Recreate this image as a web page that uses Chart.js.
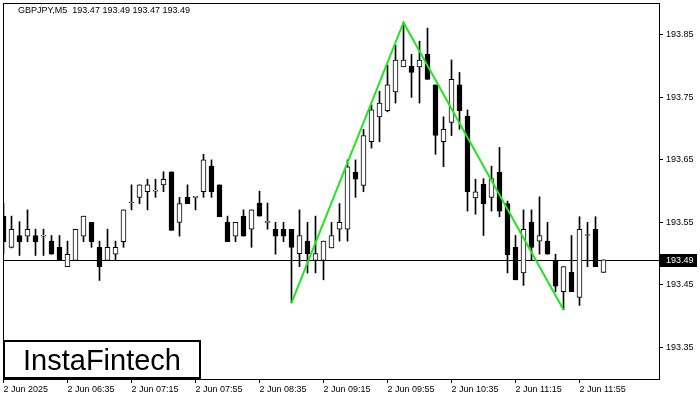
<!DOCTYPE html>
<html>
<head>
<meta charset="utf-8">
<script src="https://cdn.jsdelivr.net/npm/chart.js@4.4.0/dist/chart.umd.min.js"></script>
<style>
  html, body { margin: 0; padding: 0; background: #fff; }
</style>
</head>
<body>
<canvas id="chart" width="700" height="400"></canvas>
<script>
const symbol = 'GBPJPY,M5';

// M5 candles, 05:55 .. 12:10
const opens = [193.560, 193.510, 193.529, 193.528, 193.529, 193.528, 193.520, 193.510, 193.479, 193.489,
  193.528, 193.550, 193.510, 193.489, 193.499, 193.519, 193.581, 193.590, 193.599, 193.600,
  193.610, 193.631, 193.550, 193.590, 193.590, 193.599, 193.640, 193.610, 193.550, 193.528,
  193.560, 193.539, 193.581, 193.550, 193.539, 193.539, 193.539, 193.500, 193.520, 193.489,
  193.489, 193.509, 193.539, 193.539, 193.630, 193.609, 193.679, 193.719, 193.729, 193.759,
  193.799, 193.800, 193.799, 193.819, 193.770, 193.679, 193.710, 193.770, 193.720, 193.589,
  193.611, 193.590, 193.630, 193.580, 193.510, 193.469, 193.550, 193.520, 193.520, 193.489,
  193.439, 193.470, 193.430, 193.529, 193.539, 193.470];
const highs = [193.581, 193.560, 193.551, 193.570, 193.539, 193.539, 193.529, 193.529, 193.520, 193.539,
  193.560, 193.550, 193.520, 193.539, 193.520, 193.570, 193.610, 193.610, 193.619, 193.619,
  193.631, 193.631, 193.590, 193.610, 193.590, 193.659, 193.650, 193.610, 193.560, 193.550,
  193.570, 193.570, 193.600, 193.581, 193.550, 193.550, 193.539, 193.570, 193.550, 193.560,
  193.520, 193.550, 193.580, 193.650, 193.650, 193.699, 193.738, 193.760, 193.802, 193.834,
  193.870, 193.819, 193.840, 193.861, 193.770, 193.719, 193.810, 193.790, 193.730, 193.619,
  193.620, 193.640, 193.670, 193.584, 193.529, 193.570, 193.570, 193.591, 193.550, 193.499,
  193.479, 193.529, 193.559, 193.550, 193.559, 193.490];
const lows = [193.500, 193.509, 193.497, 193.519, 193.497, 193.497, 193.499, 193.489, 193.479, 193.489,
  193.519, 193.510, 193.457, 193.489, 193.489, 193.510, 193.570, 193.580, 193.570, 193.590,
  193.599, 193.537, 193.528, 193.580, 193.570, 193.590, 193.590, 193.559, 193.519, 193.519,
  193.528, 193.510, 193.560, 193.539, 193.499, 193.519, 193.421, 193.479, 193.469, 193.469,
  193.458, 193.509, 193.520, 193.520, 193.590, 193.599, 193.669, 193.679, 193.727, 193.741,
  193.799, 193.750, 193.741, 193.779, 193.659, 193.639, 193.689, 193.699, 193.568, 193.563,
  193.529, 193.568, 193.559, 193.469, 193.458, 193.449, 193.489, 193.499, 193.499, 193.439,
  193.410, 193.439, 193.417, 193.479, 193.479, 193.470];
const closes = [193.519, 193.539, 193.519, 193.539, 193.519, 193.528, 193.499, 193.489, 193.499, 193.539,
  193.560, 193.519, 193.479, 193.510, 193.510, 193.570, 193.581, 193.610, 193.610, 193.600,
  193.619, 193.537, 193.580, 193.580, 193.590, 193.650, 193.599, 193.559, 193.519, 193.550,
  193.528, 193.570, 193.560, 193.550, 193.528, 193.528, 193.510, 193.529, 193.500, 193.500,
  193.520, 193.529, 193.550, 193.639, 193.619, 193.689, 193.730, 193.741, 193.770, 193.810,
  193.810, 193.790, 193.810, 193.779, 193.689, 193.699, 193.779, 193.729, 193.599, 193.599,
  193.580, 193.620, 193.568, 193.498, 193.458, 193.539, 193.510, 193.529, 193.499, 193.448,
  193.479, 193.439, 193.539, 193.529, 193.479, 193.490];

const timeLabels = ['2 Jun 2025', '2 Jun 06:35', '2 Jun 07:15', '2 Jun 07:55', '2 Jun 08:35',
  '2 Jun 09:15', '2 Jun 09:55', '2 Jun 10:35', '2 Jun 11:15', '2 Jun 11:55'];
const timeLabelIdx = [0, 8, 16, 24, 32, 40, 48, 56, 64, 72];
const priceTicks = [193.35, 193.45, 193.55, 193.65, 193.75, 193.85];

// double top / bottom pattern line
const patternIdx = [36, 50, 70];
const patternPrice = [193.421, 193.870, 193.410];

const FONT = '"Liberation Sans", Arial, sans-serif';
const last = closes.length - 1;

const decor = {
  id: 'decor',
  beforeDatasetsDraw(chart) {
    const { ctx, chartArea: a, scales: { y } } = chart;
    const py = Math.round(y.getPixelForValue(closes[last])) + 0.5;
    ctx.save();
    ctx.strokeStyle = '#000';
    ctx.lineWidth = 1;
    ctx.beginPath();
    ctx.moveTo(a.left, py);
    ctx.lineTo(a.right, py);
    ctx.stroke();
    ctx.restore();
  },
  afterDraw(chart) {
    const { ctx, chartArea: a, scales: { y } } = chart;
    ctx.save();
    // frame
    ctx.strokeStyle = '#000';
    ctx.lineWidth = 1;
    ctx.strokeRect(a.left + 0.5, a.top + 0.5, a.right - a.left, a.bottom - a.top);

    // current price tag
    const py = Math.round(y.getPixelForValue(closes[last])) + 0.5;
    ctx.fillStyle = '#000';
    ctx.fillRect(a.right + 1, py - 6.5, 37, 13);
    ctx.fillStyle = '#fff';
    ctx.font = '9px ' + FONT;
    ctx.textBaseline = 'middle';
    ctx.textAlign = 'left';
    ctx.fillText(closes[last].toFixed(2), a.right + 7, py);

    // title
    ctx.fillStyle = '#000';
    const ohlc = [opens[last], highs[last], lows[last], closes[last]].map(v => v.toFixed(2)).join(' ');
    ctx.fillText(symbol + '  ' + ohlc, 18, 11);

    // logo
    ctx.fillStyle = '#fff';
    ctx.fillRect(3, 340, 198, 39);
    ctx.lineWidth = 2;
    ctx.strokeRect(4, 341, 196, 37);
    ctx.fillStyle = '#000';
    ctx.font = '29px ' + FONT;
    ctx.textAlign = 'center';
    ctx.textBaseline = 'alphabetic';
    ctx.fillText('InstaFintech', 102, 370);
    ctx.restore();
  }
};

const idx = opens.map((o, i) => i);

new Chart(document.getElementById('chart'), {
  type: 'bar',
  data: {
    datasets: [
      {
        type: 'line',
        data: patternIdx.map((x, i) => ({ x: x, y: patternPrice[i] })),
        borderColor: '#1ee61e',
        borderWidth: 2,
        pointRadius: 0,
        tension: 0,
        fill: false,
        order: 0
      },
      {
        data: idx.map(i => ({ x: i, y: [opens[i], closes[i]] })),
        backgroundColor: idx.map(i => closes[i] >= opens[i] ? '#fff' : '#000'),
        borderColor: '#000',
        borderWidth: 1,
        borderSkipped: false,
        barThickness: 5,
        minBarLength: 1,
        grouped: false,
        order: 1
      },
      {
        data: idx.map(i => ({ x: i, y: [lows[i], highs[i]] })),
        backgroundColor: '#000',
        borderWidth: 0,
        barThickness: 1,
        grouped: false,
        order: 2
      }
    ]
  },
  options: {
    responsive: false,
    animation: false,
    events: [],
    layout: { padding: { left: 3, top: 3, right: 0, bottom: 0 } },
    plugins: { legend: { display: false }, tooltip: { enabled: false } },
    scales: {
      x: {
        type: 'linear',
        min: -0.0625,
        max: 81.9375,
        offset: false,
        border: { display: false },
        grid: { offset: false, drawOnChartArea: false, drawTicks: true, tickLength: 4, color: '#000' },
        ticks: {
          autoSkip: false,
          maxRotation: 0,
          align: 'start',
          padding: 1,
          color: '#000',
          font: { family: FONT, size: 9 },
          callback: v => timeLabels[timeLabelIdx.indexOf(v)]
        },
        afterBuildTicks: s => { s.ticks = timeLabelIdx.map(v => ({ value: v })); },
        afterFit: s => { s.height = 21; s.paddingLeft = 0; s.paddingRight = 0; }
      },
      y: {
        type: 'linear',
        position: 'right',
        min: 193.2992,
        max: 193.9012,
        border: { display: false },
        grid: { drawOnChartArea: false, drawTicks: true, tickLength: 4, color: '#000' },
        ticks: {
          padding: 3,
          color: '#000',
          font: { family: FONT, size: 9 },
          callback: v => v.toFixed(2)
        },
        afterBuildTicks: s => { s.ticks = priceTicks.map(v => ({ value: v })); },
        afterFit: s => { s.width = 41; s.paddingTop = 0; s.paddingBottom = 0; }
      }
    }
  },
  plugins: [decor]
});
</script>
</body>
</html>
